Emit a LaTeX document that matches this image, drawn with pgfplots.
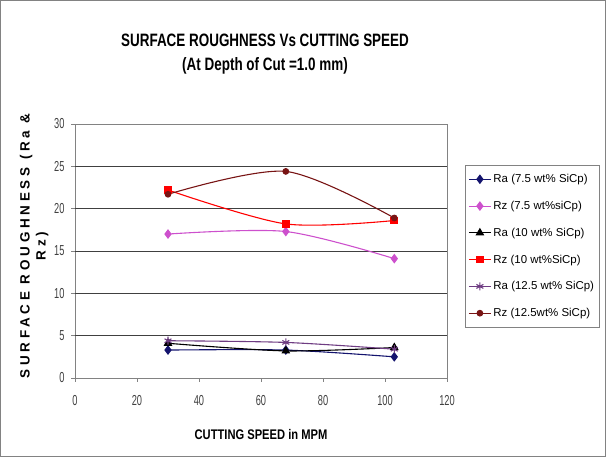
\documentclass[border=0pt]{standalone}
\usepackage{pgfplots}
\pgfplotsset{compat=1.18}
\usepackage{fontspec}
\setmainfont{Liberation Sans}
\newfontfamily\spacedfont{Liberation Sans}[LetterSpace=28]
\usetikzlibrary{plotmarks}

\definecolor{navy}{RGB}{20,20,110}
\definecolor{mag}{RGB}{205,80,205}
\definecolor{pur}{RGB}{110,60,130}
\definecolor{dred}{RGB}{120,20,20}
\definecolor{axgray}{RGB}{130,130,130}

\begin{document}
\begin{tikzpicture}
\useasboundingbox (0,0) rectangle (606bp,457bp);
\draw[axgray, line width=1.5pt] (0.75bp,0.75bp) rectangle (605.25bp,456.25bp);
\node[font=\bfseries\fontsize{18}{20}\selectfont] at (265bp,417bp) {\scalebox{0.75}[1]{SURFACE ROUGHNESS Vs CUTTING SPEED}};
\node[font=\bfseries\fontsize{18}{20}\selectfont] at (265bp,391bp) {\scalebox{0.75}[1]{(At Depth of Cut =1.0 mm)}};
\begin{axis}[
    at={(75bp,79bp)}, anchor=south west,
    scale only axis, width=372bp, height=254bp,
    xmin=0, xmax=120, ymin=0, ymax=30,
    xtick={0,20,...,120}, ytick={0,5,...,30},
    tick align=outside, tick pos=left,
    major tick length=4bp,
    axis line style={axgray, line width=0.9pt},
    tick style={axgray, line width=0.8pt},
    ticklabel style={font=\fontsize{14.5}{15}\selectfont, text=black!75},
    xticklabel={\scalebox{0.64}[1]{\pgfmathprintnumber{\tick}}},
    yticklabel={\scalebox{0.64}[1]{\pgfmathprintnumber{\tick}}},
    xticklabel style={yshift=-10bp},
    yticklabel style={xshift=-3bp},
    /pgf/number format/assume math mode=true,
    extra y ticks={5,10,15,20,25},
    extra y tick labels={},
    extra y tick style={grid=major, major grid style={black!75, line width=1pt}, major tick length=0pt},
    xlabel={\scalebox{0.8}[1]{CUTTING SPEED in MPM}},
    xlabel style={font=\bfseries\fontsize{14}{16}\selectfont, at={(axis description cs:0.5,-0.224)}, anchor=center},
    ylabel={SURFACE ROUGHNESS (Ra \&\\Rz)},
    ylabel style={font=\spacedfont\bfseries\fontsize{13.5}{16}\selectfont, align=center,
        at={(axis description cs:-0.110,0.52)}, anchor=center},
    legend style={at={(1.048,0.839)}, anchor=north west, draw=axgray, line width=1pt,
        font=\fontsize{11.5}{13}\selectfont, row sep=13bp, inner xsep=3bp, inner ysep=7bp},
    legend cell align=left,
    legend image code/.code={\draw[mark repeat=2,mark phase=2] plot coordinates {(0bp,0bp)(11bp,0bp)(22bp,0bp)};},
    every axis plot/.append style={line width=1.1pt, smooth, tension=0.5},
]
\addplot[navy, mark=diamond*, mark size=4bp] coordinates {(30,3.3)(68,3.3)(103,2.5)};
\addlegendentry{Ra (7.5 wt\% SiCp)}
\addplot[mag, mark=diamond*, mark size=4bp] coordinates {(30,17.0)(68,17.3)(103,14.1)};
\addlegendentry{Rz (7.5 wt\%siCp)}
\addplot[black, mark=triangle*, mark size=4bp] coordinates {(30,4.1)(68,3.2)(103,3.6)};
\addlegendentry{Ra (10 wt\% SiCp)}
\addplot[red, mark=square*, mark size=3.3bp] coordinates {(30,22.2)(68,18.2)(103,18.6)};
\addlegendentry{Rz (10 wt\%SiCp)}
\addplot[pur, mark=asterisk, mark size=4bp] coordinates {(30,4.4)(68,4.2)(103,3.4)};
\addlegendentry{Ra (12.5 wt\% SiCp)}
\addplot[dred, mark=*, mark size=2.8bp] coordinates {(30,21.7)(68,24.4)(103,18.9)};
\addlegendentry{Rz (12.5wt\% SiCp)}
\end{axis}
\end{tikzpicture}
\end{document}
